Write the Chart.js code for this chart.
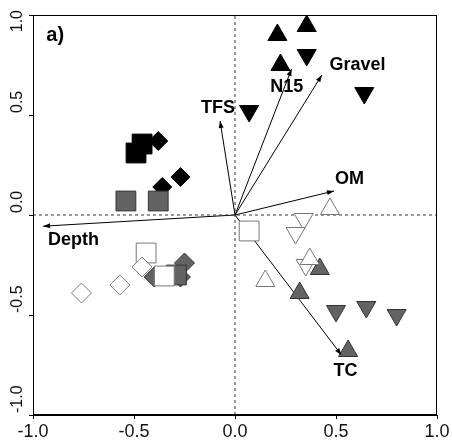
<!DOCTYPE html>
<html>
<head>
<meta charset="utf-8">
<script src="https://cdn.jsdelivr.net/npm/chart.js@4"></script>
<style>
    html, body { margin: 0; padding: 0; background: #fff; }
</style>
</head>
<body>
<canvas id="chart" width="452" height="440"></canvas>
<script>
// tick labels for both axes
const tickValues = [-1, -0.5, 0, 0.5, 1];
const tickLabels = ['-1.0', '-0.5', '0.0', '0.5', '1.0'];

// site scores, grouped by symbol
const blackSquares = [[-0.49, 0.31], [-0.46, 0.355]];
const blackDiamonds = [[-0.38, 0.37], [-0.36, 0.14], [-0.27, 0.19]];
const graySquares = [[-0.54, 0.07], [-0.38, 0.07], [-0.29, -0.30]];
const grayDiamonds = [[-0.40, -0.31], [-0.25, -0.24], [-0.27, -0.31]];
const whiteSquares = [[-0.44, -0.19], [-0.35, -0.305], [0.07, -0.08]];
const whiteDiamonds = [[-0.76, -0.39], [-0.57, -0.35], [-0.46, -0.26]];
const blackUp = [[0.21, 0.90], [0.355, 0.945], [0.225, 0.75]];
const blackDown = [[0.355, 0.80], [0.64, 0.61], [0.07, 0.52]];
const whiteUp = [[0.47, 0.03], [0.15, -0.33], [0.37, -0.22]];
const whiteDown = [[0.34, -0.02], [0.30, -0.09], [0.35, -0.25]];
const grayUp = [[0.42, -0.27], [0.32, -0.39], [0.56, -0.68]];
const grayDown = [[0.50, -0.48], [0.65, -0.46], [0.80, -0.50]];

// environmental vectors
const arrowNames = ['Depth', 'TFS', 'N15', 'Gravel', 'OM', 'TC'];
const arrowTips = [[-0.95, -0.056], [-0.074, 0.47], [0.28, 0.73], [0.43, 0.70], [0.49, 0.12], [0.527, -0.70]];
const arrowLabelAt = [[-0.80, -0.125], [-0.084, 0.535], [0.256, 0.638], [0.606, 0.75], [0.567, 0.18], [0.547, -0.78]];

const panelLabel = 'a)';
const panelLabelAt = [-0.89, 0.90];

const toPts = arr => arr.map(p => ({ x: p[0], y: p[1] }));

function markers(data, style, fill, border, radius, rotation) {
    return {
        type: 'scatter',
        data: toPts(data),
        pointStyle: style,
        pointRadius: radius,
        pointHoverRadius: radius,
        pointRotation: rotation || 0,
        backgroundColor: fill,
        borderColor: border,
        borderWidth: 1,
        order: 1
    };
}

function line(pts, dash) {
    return {
        type: 'scatter',
        data: toPts(pts),
        showLine: true,
        borderColor: dash ? '#333' : '#000',
        borderWidth: 1,
        borderDash: dash ? [3, 3] : [],
        pointRadius: 0,
        pointHoverRadius: 0,
        order: 10
    };
}

const GRAY = '#636363';
const datasets = [
    line([[-1, 0], [1, 0]], true),
    line([[0, -1], [0, 1]], true),
    ...arrowTips.map(t => line([[0, 0], t], false)),
    markers(whiteDiamonds, 'rectRot', '#fff', '#777', 10),
    markers(whiteSquares, 'rect', '#fff', '#777', 14),
    markers(graySquares, 'rect', GRAY, '#333', 14),
    markers(grayDiamonds, 'rectRot', GRAY, '#333', 10),
    markers(blackSquares, 'rect', '#000', '#000', 14),
    markers(blackDiamonds, 'rectRot', '#000', '#000', 9.5),
    markers(whiteUp, 'triangle', '#fff', '#777', 11),
    markers(whiteDown, 'triangle', '#fff', '#777', 11, 180),
    markers(grayUp, 'triangle', GRAY, '#333', 11),
    markers(grayDown, 'triangle', GRAY, '#333', 11, 180),
    markers(blackUp, 'triangle', '#000', '#000', 11),
    markers(blackDown, 'triangle', '#000', '#000', 11, 180)
];

const decor = {
    id: 'decor',
    afterDatasetsDraw(chart) {
        const { ctx, chartArea: a } = chart;
        const xs = chart.scales.x, ys = chart.scales.y;
        ctx.save();

        // full frame
        ctx.strokeStyle = '#000';
        ctx.lineWidth = 1;
        ctx.strokeRect(Math.round(a.left) + 0.5, Math.round(a.top) + 0.5,
            Math.round(a.right - a.left) - 1, Math.round(a.bottom - a.top) - 1);

        // arrowheads
        const ox = xs.getPixelForValue(0), oy = ys.getPixelForValue(0);
        ctx.fillStyle = '#000';
        arrowTips.forEach(t => {
            const px = xs.getPixelForValue(t[0]), py = ys.getPixelForValue(t[1]);
            const ang = Math.atan2(py - oy, px - ox);
            const c = Math.cos(ang), s = Math.sin(ang);
            ctx.beginPath();
            ctx.moveTo(px, py);
            ctx.lineTo(px - 7 * c + 2.5 * s, py - 7 * s - 2.5 * c);
            ctx.lineTo(px - 7 * c - 2.5 * s, py - 7 * s + 2.5 * c);
            ctx.closePath();
            ctx.fill();
        });

        // vector labels
        ctx.font = 'bold 18px "Liberation Sans", Arial, sans-serif';
        ctx.textAlign = 'center';
        ctx.textBaseline = 'middle';
        arrowNames.forEach((name, i) => {
            const p = arrowLabelAt[i];
            ctx.fillText(name, xs.getPixelForValue(p[0]), ys.getPixelForValue(p[1]));
        });
        ctx.font = 'bold 20px "Liberation Sans", Arial, sans-serif';
        ctx.fillText(panelLabel, xs.getPixelForValue(panelLabelAt[0]), ys.getPixelForValue(panelLabelAt[1]));

        // x tick labels
        ctx.font = '18px "Liberation Sans", Arial, sans-serif';
        ctx.fillStyle = '#111';
        tickValues.forEach((v, i) => {
            ctx.fillText(tickLabels[i], xs.getPixelForValue(v), a.bottom + 17);
        });

        // y tick labels, rotated
        ctx.font = '16px "Liberation Sans", Arial, sans-serif';
        ctx.textAlign = 'left';
        tickValues.forEach((v, i) => {
            const w = ctx.measureText(tickLabels[i]).width;
            const start = Math.max(ys.getPixelForValue(v) - 2, w + 10);
            ctx.save();
            ctx.translate(18, start);
            ctx.rotate(-Math.PI / 2);
            ctx.fillText(tickLabels[i], 0, 0);
            ctx.restore();
        });

        ctx.restore();
    }
};

const axisOpts = {
    type: 'linear',
    min: -1,
    max: 1,
    ticks: { stepSize: 0.5, display: false },
    grid: { drawOnChartArea: false, drawTicks: true, tickLength: 4, color: '#000' },
    border: { display: true, color: '#000', width: 1 }
};

new Chart(document.getElementById('chart'), {
    type: 'scatter',
    data: { datasets: datasets },
    options: {
        responsive: false,
        animation: false,
        events: [],
        layout: { padding: { left: 0, top: 7, right: 13, bottom: 0 } },
        plugins: { legend: { display: false }, tooltip: { enabled: false } },
        scales: {
            x: { ...axisOpts, position: 'bottom', afterFit: s => { s.height = 25; } },
            y: { ...axisOpts, position: 'left', afterFit: s => { s.width = 33; } }
        }
    },
    plugins: [decor]
});
</script>
</body>
</html>
